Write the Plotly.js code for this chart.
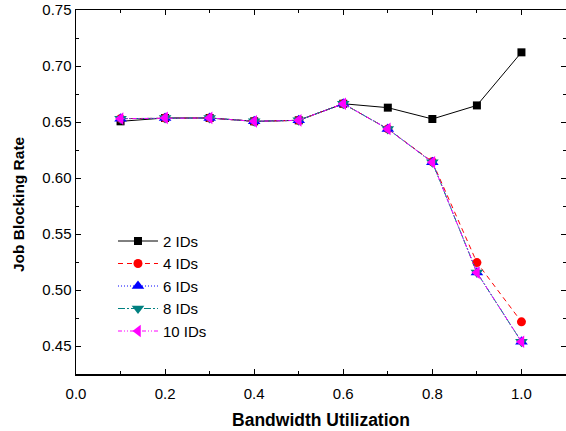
<!DOCTYPE html>
<html><head><meta charset="utf-8">
<script src="https://cdn.plot.ly/plotly-3.0.1.min.js"></script>
<style>html,body{margin:0;padding:0;background:#fff}#chart{width:566px;height:431px}</style>
</head><body><div id="chart"></div>
<script>
var utilization = [0.1, 0.2, 0.3, 0.4, 0.5, 0.6, 0.7, 0.8, 0.9, 1.0];
var ids2  = [0.6506, 0.6536, 0.6536, 0.6506, 0.6515, 0.6663, 0.6628, 0.6527, 0.6648, 0.7122];
var ids4  = [0.6530, 0.6536, 0.6536, 0.6506, 0.6515, 0.6663, 0.6438, 0.6145, 0.5245, 0.4716];
var ids6  = [0.6530, 0.6536, 0.6536, 0.6506, 0.6515, 0.6663, 0.6438, 0.6140, 0.5156, 0.4538];
var ids8  = [0.6530, 0.6536, 0.6536, 0.6506, 0.6515, 0.6663, 0.6438, 0.6140, 0.5156, 0.4538];
var ids10 = [0.6530, 0.6536, 0.6536, 0.6506, 0.6515, 0.6663, 0.6438, 0.6140, 0.5156, 0.4538];
var seriesNames = ['2 IDs', '4 IDs', '6 IDs', '8 IDs', '10 IDs'];
var xTitle = 'Bandwidth Utilization';
var yTitle = 'Job Blocking Rate';

var FONT = 'Liberation Sans, Arial, sans-serif';
var styles = [
  {color:'#000000', dash:'solid', symbol:'square', size:8},
  {color:'#ff0000', dash:'5px,4px', symbol:'circle', size:9},
  {color:'#0000ff', dash:'1px,2px', symbol:'triangle-up', size:11},
  {color:'#008080', dash:'7px,2px,2px,2px', symbol:'triangle-down', size:11},
  {color:'#ff00ff', dash:'4px,2px,1px,2px,1px,2px', symbol:'triangle-left', size:11}
];
var allSeries = [ids2, ids4, ids6, ids8, ids10];
var traces = allSeries.map(function(ys, i){
  var s = styles[i];
  return {x: utilization, y: ys, name: seriesNames[i], type:'scatter', mode:'lines+markers',
    line:{color:s.color, width:1, dash:s.dash},
    marker:{symbol:s.symbol, size:s.size, color:s.color, line:{width:0}}};
});

var axisCommon = {showline:true, linecolor:'#000', linewidth:1.5, mirror:'ticks',
  ticks:'inside', ticklen:5, tickwidth:1, tickcolor:'#000', showgrid:false, zeroline:false,
  tickfont:{family:FONT, size:15, color:'#000'}};

var layout = {
  width:566, height:431,
  margin:{l:76, r:0, t:10, b:57},
  paper_bgcolor:'#fff', plot_bgcolor:'#fff',
  showlegend:true,
  legend:{x:0.0755, y:0.41, xanchor:'left', yanchor:'top', bgcolor:'rgba(0,0,0,0)',
    font:{family:FONT, size:15, color:'#000'}, tracegroupgap:0, itemwidth:40},
  xaxis: Object.assign({}, axisCommon, {range:[0, 1.1], dtick:0.2, tick0:0, tickformat:'.1f',
    ticklabelstandoff:5,
    minor:{ticks:'inside', ticklen:3, dtick:0.1, tickcolor:'#000'},
    title:{text:xTitle, standoff:13, font:{family:FONT, size:17.5, color:'#000', weight:'bold'}}}),
  yaxis: Object.assign({}, axisCommon, {range:[0.425, 0.75], dtick:0.05, tick0:0.45, tickformat:'.2f',
    minor:{ticks:'inside', ticklen:3, dtick:0.025, tickcolor:'#000'}}),
  annotations:[{text:yTitle, xref:'paper', yref:'paper', x:(18-76)/490, y:(374-204)/364,
    xanchor:'center', yanchor:'middle', textangle:-90, showarrow:false,
    font:{family:FONT, size:15.5, color:'#000', weight:'bold'}}]
};
Plotly.newPlot('chart', traces, layout, {displayModeBar:false, staticPlot:true});
</script></body></html>
